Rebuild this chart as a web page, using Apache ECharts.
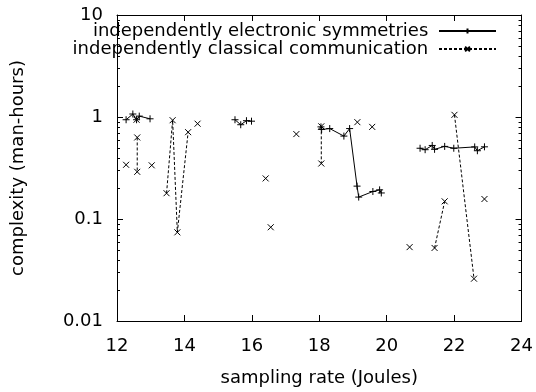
<!DOCTYPE html>
<html>
<head>
<meta charset="utf-8">
<script src="https://cdn.jsdelivr.net/npm/echarts@6/dist/echarts.min.js"></script>
<style>html,body{margin:0;padding:0;background:#fff;}#c{width:536px;height:392px;}</style>
</head>
<body>
<div id="c"></div>
<script>
// null marks a break in the line
const elecX = [12.27,12.47,12.58,12.66,12.98, null, 15.50,15.67,15.84,15.99, null, 18.05,18.07,18.31,18.73,18.90,19.12,19.17,19.59,19.79,19.84, null, 20.99,21.14,21.35,21.42,21.72,21.99,22.61,22.69,22.90];
const elecY = [0.94,1.07,0.94,1.02,0.96, null, 0.94,0.84,0.92,0.91, null, 0.80,0.755,0.77,0.65,0.77,0.21,0.164,0.186,0.193,0.18, null, 0.494,0.478,0.526,0.482,0.515,0.494,0.509,0.467,0.51];
const classX = [12.27, null, 12.58, null, 12.60,12.60, null, 13.03, null, 13.47,13.65,13.79,14.11, null, 14.39, null, 16.41, null, 16.56, null, 17.32, null, 18.06,18.06, null, 19.13, null, 19.57, null, 20.68, null, 21.42,21.72, null, 22.01,22.59, null, 22.90];
const classY = [0.34, null, 0.94, null, 0.63,0.29, null, 0.336, null, 0.179,0.93,0.074,0.71, null, 0.86, null, 0.25, null, 0.083, null, 0.68, null, 0.81,0.35, null, 0.89, null, 0.80, null, 0.053, null, 0.052,0.149, null, 1.05,0.026, null, 0.157];
const seriesNames = ['independently electronic symmetries', 'independently classical communication'];
const xTicks = {min: 12, max: 24, interval: 2};
const yRange = {min: 0.01, max: 10};

function pairs(xs, ys) {
  return xs.map((x, i) => x === null ? ['-', '-'] : [x, ys[i]]);
}
const FONT = 'DejaVu Sans';
const chart = echarts.init(document.getElementById('c'), null, {renderer: 'canvas'});
const txt = {color: '#000', fontFamily: FONT, fontSize: 18};
const baseX = {type: 'value', min: xTicks.min, max: xTicks.max, interval: xTicks.interval, splitLine: {show: false},
  axisLine: {lineStyle: {color: '#000', width: 1}}, axisTick: {inside: true, length: 6, lineStyle: {color: '#000'}}};
const baseY = {type: 'log', logBase: 10, min: yRange.min, max: yRange.max, splitLine: {show: false},
  axisLine: {show: true, lineStyle: {color: '#000', width: 1}}, axisTick: {show: true, inside: true, length: 6, lineStyle: {color: '#000'}}};
chart.setOption({
  animation: false,
  backgroundColor: '#fff',
  grid: {left: 117, right: 14, top: 15, bottom: 65},
  legend: {
    orient: 'vertical', align: 'right', right: 34, top: 17, itemGap: 0, itemWidth: 57, itemHeight: 6,
    selectedMode: false, textStyle: Object.assign({lineHeight: 18}, txt),
    formatter: name => name + ' ',
    data: seriesNames
  },
  xAxis: [
    Object.assign({}, baseX, {position: 'bottom', name: 'sampling rate (Joules)', nameLocation: 'middle', nameGap: 48,
      nameTextStyle: txt, axisLabel: Object.assign({margin: 16}, txt)}),
    Object.assign({}, baseX, {position: 'top', axisLabel: {show: false}})
  ],
  yAxis: [
    Object.assign({}, baseY, {position: 'left', name: 'complexity (man-hours)', nameLocation: 'middle', nameGap: 90,
      nameTextStyle: txt, axisLabel: Object.assign({margin: 14}, txt)}),
    Object.assign({}, baseY, {position: 'right', axisLabel: {show: false}})
  ],
  series: [
    {name: seriesNames[0], type: 'line', data: pairs(elecX, elecY), symbol: 'path://M0,5L10,5M5,0L5,10', symbolSize: 7,
      showAllSymbol: true, connectNulls: false,
      lineStyle: {color: '#000', width: 1, type: 'solid'}, itemStyle: {color: '#000', borderColor: '#000', borderWidth: 1}},
    {name: seriesNames[1], type: 'line', data: pairs(classX, classY), symbol: 'path://M0,0L10,10M10,0L0,10', symbolSize: 6,
      showAllSymbol: true, connectNulls: false,
      lineStyle: {color: '#000', width: 1, type: [3, 2]}, itemStyle: {color: '#000', borderColor: '#000', borderWidth: 1}}
  ]
});
// minor ticks at 2..9 x 10^k on left and right axes, positioned by the library's log scale
const xl = chart.convertToPixel({xAxisIndex: 0}, xTicks.min);
const xr = chart.convertToPixel({xAxisIndex: 0}, xTicks.max);
const minor = [];
for (let k = -2; k <= 0; k++) {
  for (let m = 2; m <= 9; m++) {
    const py = Math.round(chart.convertToPixel({yAxisIndex: 0}, m * Math.pow(10, k))) + 0.5;
    minor.push({type: 'line', shape: {x1: xl, y1: py, x2: xl + 3, y2: py}, style: {stroke: '#000', lineWidth: 1}, silent: true});
    minor.push({type: 'line', shape: {x1: xr, y1: py, x2: xr - 3, y2: py}, style: {stroke: '#000', lineWidth: 1}, silent: true});
  }
}
chart.setOption({graphic: minor});
</script>
</body>
</html>
